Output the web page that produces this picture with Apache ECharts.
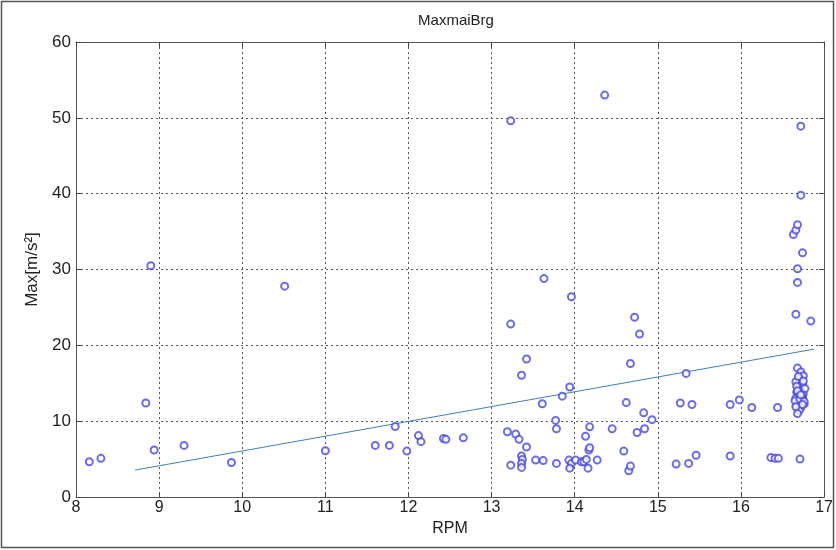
<!DOCTYPE html>
<html>
<head>
<meta charset="utf-8">
<script src="https://cdn.jsdelivr.net/npm/echarts@6/dist/echarts.min.js"></script>
<style>
  html, body { margin: 0; padding: 0; background: #fff; }
  #chart { width: 836px; height: 550px; }
</style>
</head>
<body>
<div id="chart"></div>
<script>
// Measured samples: rotor speed vs. maximum bearing acceleration
const rpmValues = [
  8.16, 8.30, 8.84, 8.90, 8.94, 9.30, 9.87, 10.51, 11.00, 11.60,
  11.77, 11.84, 11.98, 12.12, 12.15, 12.42, 12.45, 12.66, 13.19, 13.23,
  13.23, 13.23, 13.29, 13.33, 13.36, 13.42, 13.42, 13.36, 13.37, 13.36,
  13.36, 13.53, 13.61, 13.62, 13.63, 13.77, 13.78, 13.78, 13.85, 13.94,
  13.96, 13.93, 13.96, 13.94, 14.01, 14.08, 14.11, 14.13, 14.14, 14.16,
  14.17, 14.18, 14.18, 14.27, 14.36, 14.45, 14.59, 14.62, 14.65, 14.67,
  14.67, 14.72, 14.75, 14.78, 14.83, 14.84, 14.93, 15.22, 15.27, 15.34,
  15.37, 15.41, 15.46, 15.87, 15.87, 15.98, 16.13, 16.36, 16.41, 16.45,
  16.44, 16.71, 16.63, 16.66, 16.68, 16.74, 16.68, 16.68, 16.66, 16.84,
  16.72, 16.72,
  16.68, 16.72, 16.75, 16.70, 16.66, 16.74, 16.69, 16.72, 16.67, 16.75,
  16.70, 16.66, 16.73, 16.69, 16.76, 16.67, 16.72, 16.70, 16.68, 16.74,
  16.71, 16.65, 16.77, 16.69, 16.73, 16.67, 16.71, 16.76, 16.70, 16.74,
  16.68, 16.72, 16.66, 16.75
];
const maxValues = [
  4.65, 5.1, 12.4, 30.5, 6.2, 6.8, 4.55, 27.8, 6.1, 6.8,
  6.8, 9.3, 6.05, 8.1, 7.3, 7.7, 7.6, 7.8, 8.6, 22.8,
  49.6, 4.2, 8.3, 7.6, 16.05, 18.2, 6.6, 5.4, 4.96, 4.43,
  3.9, 4.87, 12.3, 4.8, 28.8, 10.1, 9.0, 4.43, 13.3, 14.5,
  26.4, 4.87, 4.43, 3.8, 4.87, 4.65, 4.65, 8.0, 4.96, 3.8,
  6.2, 6.5, 9.25, 4.87, 53.0, 9.0, 6.05, 12.45, 3.46, 4.08,
  17.6, 23.7, 8.5, 21.5, 11.1, 9.0, 10.2, 4.34, 12.4, 16.3,
  4.43, 12.2, 5.5, 12.2, 5.4, 12.8, 11.8, 5.2, 5.1, 5.1,
  11.8, 5.0, 34.6, 35.2, 35.9, 32.2, 30.1, 28.3, 24.1, 23.2,
  48.9, 39.8,
  17.0, 16.5, 16.0, 15.6, 15.2, 14.8, 14.4, 14.1, 13.8, 13.6,
  13.3, 13.0, 12.8, 12.5, 12.3, 12.1, 11.8, 11.4, 11.0, 13.1,
  13.9, 12.7, 14.3, 15.9, 13.4, 14.6, 12.9, 12.6, 13.7, 12.2,
  14.0, 13.5, 11.9, 15.3
];

// Linear fit endpoints
const fitRpm = [8.71, 16.88];
const fitMax = [3.55, 19.5];

// Axis ticks
const xTicks = [8, 9, 10, 11, 12, 13, 14, 15, 16, 17];
const yTicks = [0, 10, 20, 30, 40, 50, 60];

const FONT = '"Liberation Sans", Arial, sans-serif';
const points = rpmValues.map((x, i) => [x, maxValues[i]]);
const fitLine = fitRpm.map((x, i) => [x, fitMax[i]]);

const gridLine = { show: true, lineStyle: { color: '#555', type: [2, 3], width: 1 } };
const axisLineStyle = { show: true, onZero: false, lineStyle: { color: '#555', width: 1 } };
const tickIn = { show: true, inside: true, length: 5, lineStyle: { color: '#444' } };

const chart = echarts.init(document.getElementById('chart'), null, { renderer: 'canvas' });
chart.setOption({
  backgroundColor: '#fff',
  animation: false,
  title: {
    text: 'MaxmaiBrg',
    left: 451, top: 8, textAlign: 'center',
    textStyle: { fontFamily: FONT, fontSize: 15, fontWeight: 'normal', color: '#222' }
  },
  grid: { left: 76, right: 10, top: 42, bottom: 53, show: false },
  xAxis: [{
    type: 'value', min: xTicks[0], max: xTicks[xTicks.length - 1], interval: 1,
    name: 'RPM', nameLocation: 'middle', nameGap: 16,
    nameTextStyle: { fontFamily: FONT, fontSize: 16, color: '#222' },
    axisLine: axisLineStyle, axisTick: tickIn, splitLine: gridLine,
    axisLabel: { fontFamily: FONT, fontSize: 16, color: '#222', margin: 3 }
  }, {
    type: 'value', position: 'top', min: xTicks[0], max: xTicks[xTicks.length - 1], interval: 1,
    axisLine: axisLineStyle, axisTick: tickIn, splitLine: { show: false },
    axisLabel: { show: false }
  }],
  yAxis: [{
    type: 'value', min: yTicks[0], max: yTicks[yTicks.length - 1], interval: 10,
    name: 'Max[m/s²]', nameLocation: 'middle', nameGap: 34, nameRotate: 90,
    nameTextStyle: { fontFamily: FONT, fontSize: 17, color: '#222' },
    axisLine: axisLineStyle, axisTick: tickIn, splitLine: gridLine,
    axisLabel: { fontFamily: FONT, fontSize: 17, color: '#222', margin: 5 }
  }, {
    type: 'value', position: 'right', min: yTicks[0], max: yTicks[yTicks.length - 1], interval: 10,
    axisLine: axisLineStyle, axisTick: tickIn, splitLine: { show: false },
    axisLabel: { show: false }
  }],
  series: [{
    type: 'line',
    data: fitLine,
    showSymbol: false,
    lineStyle: { color: '#3d7fb8', width: 1 },
    z: 3
  }, {
    type: 'scatter',
    data: points,
    symbol: 'emptyCircle',
    symbolSize: 7,
    itemStyle: { color: '#4848dc', borderColor: '#4848dc', borderWidth: 1 },
    z: 4
  }],
  graphic: [{
    type: 'rect',
    shape: { x: 1.5, y: 1.5, width: 832, height: 546 },
    style: { fill: 'none', stroke: '#555', lineWidth: 1.5 },
    silent: true
  }]
});
</script>
</body>
</html>
